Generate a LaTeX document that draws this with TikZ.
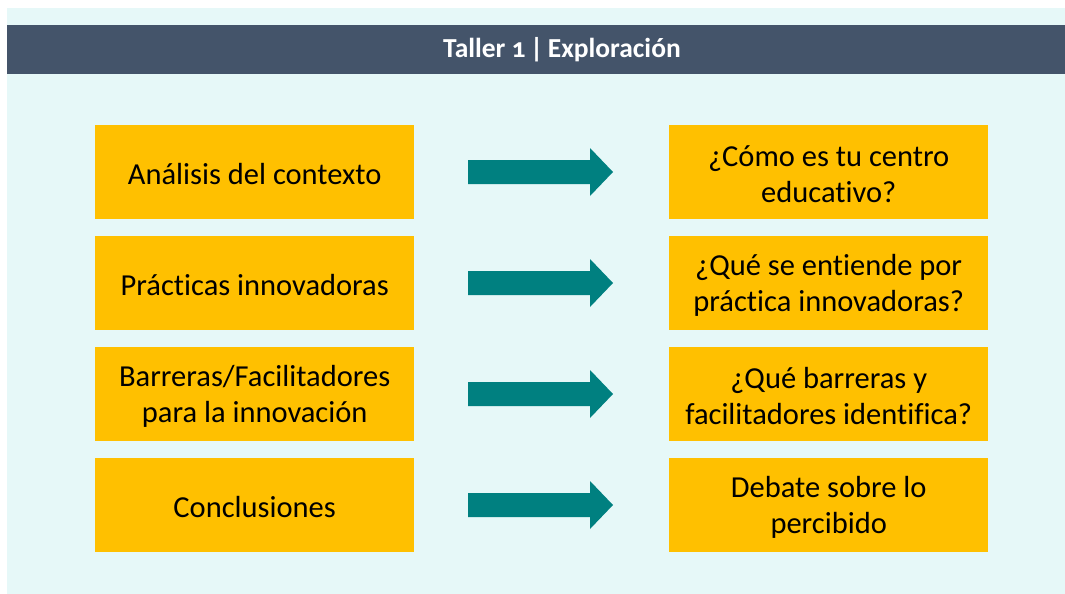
\documentclass[tikz,border=0pt]{standalone}
\usepackage{fontspec}
\setmainfont[Ligatures=NoCommon]{Carlito}
\newfontfamily\oldnum[Numbers=OldStyle]{Carlito}
\definecolor{bgc}{HTML}{E6F8F8}
\definecolor{hdr}{HTML}{44546A}
\definecolor{ybox}{HTML}{FFC000}
\definecolor{teal1}{HTML}{008080}
\begin{document}
\begin{tikzpicture}[x=1pt,y=-1pt,
  box/.style={fill=ybox,draw=none,minimum width=319pt,minimum height=94pt,inner sep=0pt,align=center,font=\fontsize{30.5}{37}\selectfont,text=black,anchor=north west},
  lbl/.style={inner sep=0pt,align=center,font=\fontsize{30.5}{36.5}\selectfont,text=black,yshift=-2pt},
  arr/.style={fill=teal1,draw=none}]
\useasboundingbox (0,0) rectangle (1065,594);
\fill[white] (0,0) rectangle (1065,594);
\fill[bgc] (7,8) rectangle (1065,594);
\fill[hdr] (7,25) rectangle (1065,74);
\node[text=white,font=\fontsize{27.5}{30}\selectfont\bfseries] (title) at (562,50) {Taller {\oldnum 1}\,|\,Exploración};
\foreach \i/\y/\l/\r in {1/125/{Análisis del contexto}/{¿Cómo es tu centro\\educativo?},
  2/236/{Prácticas innovadoras}/{¿Qué se entiende por\\práctica innovadoras?},
  3/347/{Barreras/Facilitadores\\para la innovación}/{¿Qué barreras y\\facilitadores identifica?},
  4/458/{Conclusiones}/{Debate sobre lo\\percibido}}{
  \node[box] (L\i) at (95,\y) {};
  \node[lbl] (LT\i) at (L\i.center) {\l};
  \node[box] (R\i) at (669,\y) {};
  \node[lbl] (RT\i) at (R\i.center) {\r};
  \fill[teal1] (468,\y+35) -- (590,\y+35) -- (590,\y+23) -- (613,\y+47) -- (590,\y+71) -- (590,\y+59) -- (468,\y+59) -- cycle;
}
\end{tikzpicture}
\end{document}
